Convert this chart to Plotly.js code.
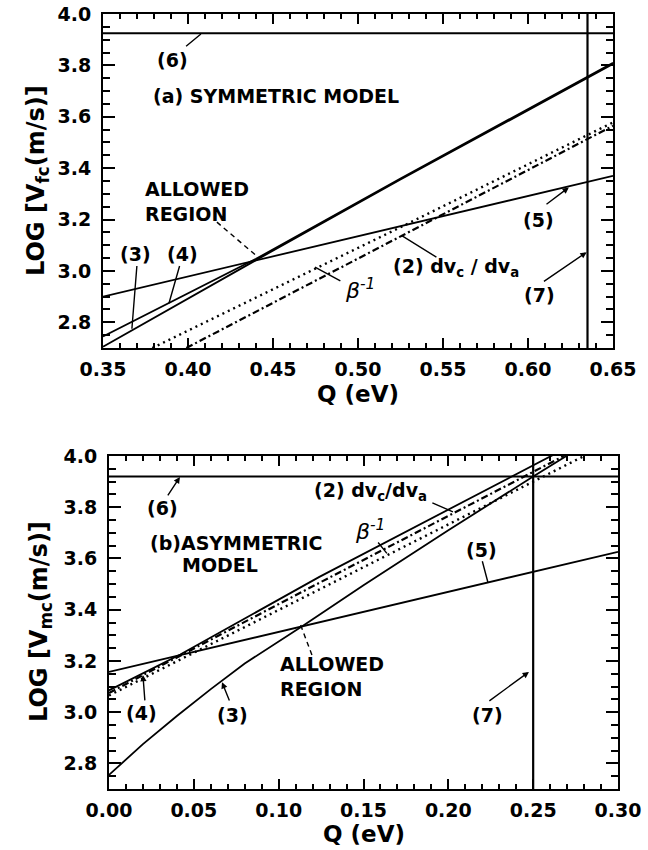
<!DOCTYPE html>
<html>
<head>
<meta charset="utf-8">
<script src="https://cdn.plot.ly/plotly-3.0.1.min.js"></script>
<style>
html,body{margin:0;padding:0;background:#fff;}
#wrap{position:relative;width:648px;height:850px;}
#chart,#labels{position:absolute;left:0;top:0;width:648px;height:850px;}
</style>
</head>
<body>
<div id="wrap"><div id="chart"></div><div id="labels"></div></div>
<script>
// ---------- Panel (a): symmetric model ----------
const qA_3 = [0.35, 0.44, 0.525, 0.65];
const vA_3 = [2.705, 3.042, 3.356, 3.805];
const qA_4 = [0.35, 0.44, 0.525, 0.65];
const vA_4 = [2.745, 3.047, 3.36, 3.81];
const qA_5 = [0.35, 0.44, 0.525, 0.65];
const vA_5 = [2.90, 3.041, 3.175, 3.37];
const qA_2 = [0.399, 0.525, 0.65];       // (2) dvc/dva  (dash-dot)
const vA_2 = [2.70, 3.135, 3.565];
const qA_beta = [0.379, 0.525, 0.65];    // beta^-1 (dotted)
const vA_beta = [2.70, 3.17, 3.578];
const qA_6 = [0.35, 0.65];
const vA_6 = [3.925, 3.925];
const qA_7 = [0.635, 0.635];
const vA_7 = [2.70, 4.00];

// ---------- Panel (b): asymmetric model ----------
const qB_3 = [0, 0.02, 0.04, 0.06, 0.08, 0.10, 0.115, 0.15, 0.20, 0.25, 0.272];
const vB_3 = [2.755, 2.875, 2.985, 3.09, 3.19, 3.276, 3.34, 3.495, 3.71, 3.92, 4.01];
const qB_4 = [0, 0.042, 0.124, 0.24, 0.262];
const vB_4 = [3.085, 3.225, 3.528, 3.93, 4.005];
const qB_2 = [0, 0.124, 0.268];          // (2) dvc/dva (dash-dot)
const vB_2 = [3.075, 3.505, 4.0];
const qB_beta = [0, 0.124, 0.28];        // beta^-1 (dotted)
const vB_beta = [3.065, 3.478, 4.0];
const qB_5 = [0, 0.30];
const vB_5 = [3.157, 3.626];
const qB_6 = [0, 0.30];
const vB_6 = [3.92, 3.92];
const qB_7 = [0.25, 0.25];
const vB_7 = [2.70, 4.00];

const FONT = 'DejaVu Sans';
const solid = (x, y, xa, ya, w) => ({x, y, xaxis: xa, yaxis: ya, mode: 'lines', line: {color: '#000', width: w || 1.8}});
const dotted = (x, y, xa, ya) => ({x, y, xaxis: xa, yaxis: ya, mode: 'lines', line: {color: '#000', width: 2.4, dash: '2px,4px'}});
const dashdot = (x, y, xa, ya) => ({x, y, xaxis: xa, yaxis: ya, mode: 'lines', line: {color: '#000', width: 2.2, dash: '7px,3px,2px,3px'}});

const traces = [
  solid(qA_3, vA_3, 'x', 'y'),
  solid(qA_4, vA_4, 'x', 'y'),
  solid(qA_5, vA_5, 'x', 'y'),
  dashdot(qA_2, vA_2, 'x', 'y'),
  dotted(qA_beta, vA_beta, 'x', 'y'),
  solid(qA_6, vA_6, 'x', 'y', 2.2),
  solid(qA_7, vA_7, 'x', 'y', 2.2),
  solid(qB_3, vB_3, 'x2', 'y2'),
  solid(qB_4, vB_4, 'x2', 'y2'),
  dashdot(qB_2, vB_2, 'x2', 'y2'),
  dotted(qB_beta, vB_beta, 'x2', 'y2'),
  solid(qB_5, vB_5, 'x2', 'y2'),
  solid(qB_6, vB_6, 'x2', 'y2', 2.2),
  solid(qB_7, vB_7, 'x2', 'y2', 2.2)
];

const domXA = [103/648, 613/648], domYA = [1 - 348/850, 1 - 14/850];
const domXB = [109/648, 618/648], domYB = [1 - 789/850, 1 - 456/850];
const rangeXA = [0.35, 0.65], rangeXB = [0, 0.30], rangeY = [2.7, 4.0];

const tickFont = {family: FONT, size: 19, color: 'black', weight: 'bold'};
function xaxisDef(dom, anchor, range, tick0) {
  return {domain: dom, anchor: anchor, range: range, tick0: tick0, dtick: 0.05, tickformat: '.2f',
    ticks: 'inside', ticklen: 10, tickwidth: 2, tickcolor: '#000', showline: true, linecolor: 'black', linewidth: 2,
    mirror: 'ticks', tickfont: tickFont, showgrid: false, zeroline: false, ticklabelstandoff: 3,
    minor: {dtick: 0.01, ticks: 'inside', ticklen: 5, tickcolor: '#000'}};
}
function yaxisDef(dom, anchor) {
  return {domain: dom, anchor: anchor, range: rangeY, dtick: 0.2, tickformat: '.1f',
    ticks: 'inside', ticklen: 12, tickwidth: 2, tickcolor: '#000', showline: true, linecolor: 'black', linewidth: 2,
    mirror: 'ticks', tickfont: tickFont, showgrid: false, zeroline: false, ticklabelstandoff: 6,
    minor: {dtick: 0.05, ticks: 'inside', ticklen: 7, tickcolor: '#000'}};
}
function hiddenAxis(dom, anchor, range) {
  return {domain: dom, anchor: anchor, range: range, showline: false, showticklabels: false, ticks: '',
    showgrid: false, zeroline: false};
}

const lblFont = {family: FONT, size: 19, color: '#000', weight: 'bold'};
const betaFont = {family: FONT, size: 22, color: '#000', style: 'italic'};
function txt(xr, yr, x, y, text, opts) {
  return Object.assign({xref: xr, yref: yr, x, y, text, showarrow: false, font: lblFont}, opts || {});
}
function leader(xr, yr, x0, y0, x1, y1, head) {
  return {xref: xr, yref: yr, axref: xr, ayref: yr, x: x1, y: y1, ax: x0, ay: y0, text: '',
    showarrow: true, arrowhead: head ? 2 : 0, arrowsize: 0.9, arrowwidth: 1.4, arrowcolor: '#000',
    standoff: 0, startstandoff: 0};
}

const titleFont = {family: FONT, size: 23, color: '#000', weight: 'bold'};
const annotations = [
  {xref: 'paper', yref: 'paper', x: 38/648, y: 1 - 181/850, text: 'LOG [V<sub>fc</sub>(m/s)]', textangle: -90,
   showarrow: false, font: {family: FONT, size: 24, color: '#000', weight: 'bold'}, xanchor: 'center', yanchor: 'middle'},
  {xref: 'paper', yref: 'paper', x: 40/648, y: 1 - 622/850, text: 'LOG [V<sub>mc</sub>(m/s)]', textangle: -90,
   showarrow: false, font: {family: FONT, size: 24, color: '#000', weight: 'bold'}, xanchor: 'center', yanchor: 'middle'},
  {xref: 'paper', yref: 'paper', x: 358/648, y: 1 - 394/850, text: 'Q (eV)', showarrow: false,
   font: titleFont, xanchor: 'center', yanchor: 'middle'},
  {xref: 'paper', yref: 'paper', x: 364/648, y: 1 - 834/850, text: 'Q (eV)', showarrow: false,
   font: titleFont, xanchor: 'center', yanchor: 'middle'},

  txt('x', 'y', 0.3906, 3.82, '(6)'),
  leader('x', 'y', 0.398, 3.87, 0.4076, 3.922, false),
  txt('x', 'y', 0.4518, 3.68, '(a) SYMMETRIC MODEL'),
  txt('x', 'y', 0.3735, 3.272, 'ALLOWED<br>REGION', {xanchor: 'left', align: 'left'}),
  txt('x', 'y', 0.3694, 3.065, '(3)'),
  leader('x', 'y', 0.3700, 3.025, 0.367, 2.775, false),
  txt('x', 'y', 0.3965, 3.065, '(4)'),
  leader('x', 'y', 0.3953, 3.025, 0.3888, 2.874, false),
  txt('x', 'y', 0.606, 3.20, '(5)'),
  leader('x', 'y', 0.610, 3.255, 0.624, 3.325, true),
  txt('x', 'y', 0.607, 2.908, '(7)'),
  leader('x', 'y', 0.6085, 2.955, 0.6345, 3.073, true),
  txt('x', 'y', 0.5576, 3.014, '(2) dv<sub>c</sub> / dv<sub>a</sub>'),
  leader('x', 'y', 0.547, 3.05, 0.5255, 3.138, false),
  txt('x', 'y', 0.5012, 2.93, 'β<sup>-1</sup>', {font: betaFont}),
  leader('x', 'y', 0.4905, 2.958, 0.4747, 3.015, false),

  txt('x2', 'y2', 0.0318, 3.798, '(6)'),
  leader('x2', 'y2', 0.0341, 3.84, 0.0418, 3.918, true),
  txt('x2', 'y2', 0.023, 3.661, '(b)ASYMMETRIC', {xanchor: 'left'}),
  txt('x2', 'y2', 0.0418, 3.575, 'MODEL', {xanchor: 'left'}),
  txt('x2', 'y2', 0.1544, 3.86, '(2) dv<sub>c</sub>/dv<sub>a</sub>'),
  leader('x2', 'y2', 0.1897, 3.82, 0.2027, 3.782, false),
  txt('x2', 'y2', 0.1538, 3.71, 'β<sup>-1</sup>', {font: betaFont}),
  leader('x2', 'y2', 0.1579, 3.668, 0.1638, 3.62, false),
  txt('x2', 'y2', 0.2198, 3.634, '(5)'),
  leader('x2', 'y2', 0.2198, 3.595, 0.2233, 3.507, false),
  txt('x2', 'y2', 0.0996, 3.1375, 'ALLOWED<br>REGION', {xanchor: 'left', align: 'left'}),
  txt('x2', 'y2', 0.0194, 2.997, '(4)'),
  leader('x2', 'y2', 0.0212, 3.04, 0.020, 3.145, true),
  txt('x2', 'y2', 0.0725, 2.989, '(3)'),
  leader('x2', 'y2', 0.0713, 3.04, 0.0666, 3.117, true),
  txt('x2', 'y2', 0.2233, 2.989, '(7)'),
  leader('x2', 'y2', 0.2233, 3.04, 0.2475, 3.157, true)
];

const shapes = [
  {type: 'line', xref: 'x', yref: 'y', x0: 0.417, y0: 3.19, x1: 0.4406, y1: 3.057, line: {color: '#000', width: 1.4, dash: '5px,4px'}},
  {type: 'line', xref: 'x2', yref: 'y2', x0: 0.1196, y0: 3.223, x1: 0.1125, y1: 3.348, line: {color: '#000', width: 1.4, dash: '5px,4px'}}
];

// Base figure: data lines and framed axes with ticks
const layout = {
  width: 648, height: 850,
  margin: {l: 0, r: 0, t: 0, b: 0, pad: 0, autoexpand: false},
  showlegend: false,
  paper_bgcolor: '#fff', plot_bgcolor: '#fff',
  xaxis: xaxisDef(domXA, 'y', rangeXA, 0.35),
  yaxis: yaxisDef(domYA, 'x'),
  xaxis2: xaxisDef(domXB, 'y2', rangeXB, 0),
  yaxis2: yaxisDef(domYB, 'x2')
};
Plotly.newPlot('chart', traces, layout, {displayModeBar: false, staticPlot: true});

// Transparent overlay with the same axes (hidden) for labels, titles and leaders
const overlayLayout = {
  width: 648, height: 850,
  margin: {l: 0, r: 0, t: 0, b: 0, pad: 0, autoexpand: false},
  showlegend: false,
  paper_bgcolor: 'rgba(0,0,0,0)', plot_bgcolor: 'rgba(0,0,0,0)',
  xaxis: hiddenAxis(domXA, 'y', rangeXA),
  yaxis: hiddenAxis(domYA, 'x', rangeY),
  xaxis2: hiddenAxis(domXB, 'y2', rangeXB),
  yaxis2: hiddenAxis(domYB, 'x2', rangeY),
  annotations: annotations,
  shapes: shapes
};
const overlayTraces = [
  {x: [], y: [], xaxis: 'x', yaxis: 'y', mode: 'lines'},
  {x: [], y: [], xaxis: 'x2', yaxis: 'y2', mode: 'lines'}
];
Plotly.newPlot('labels', overlayTraces, overlayLayout, {displayModeBar: false, staticPlot: true});
</script>
</body>
</html>
